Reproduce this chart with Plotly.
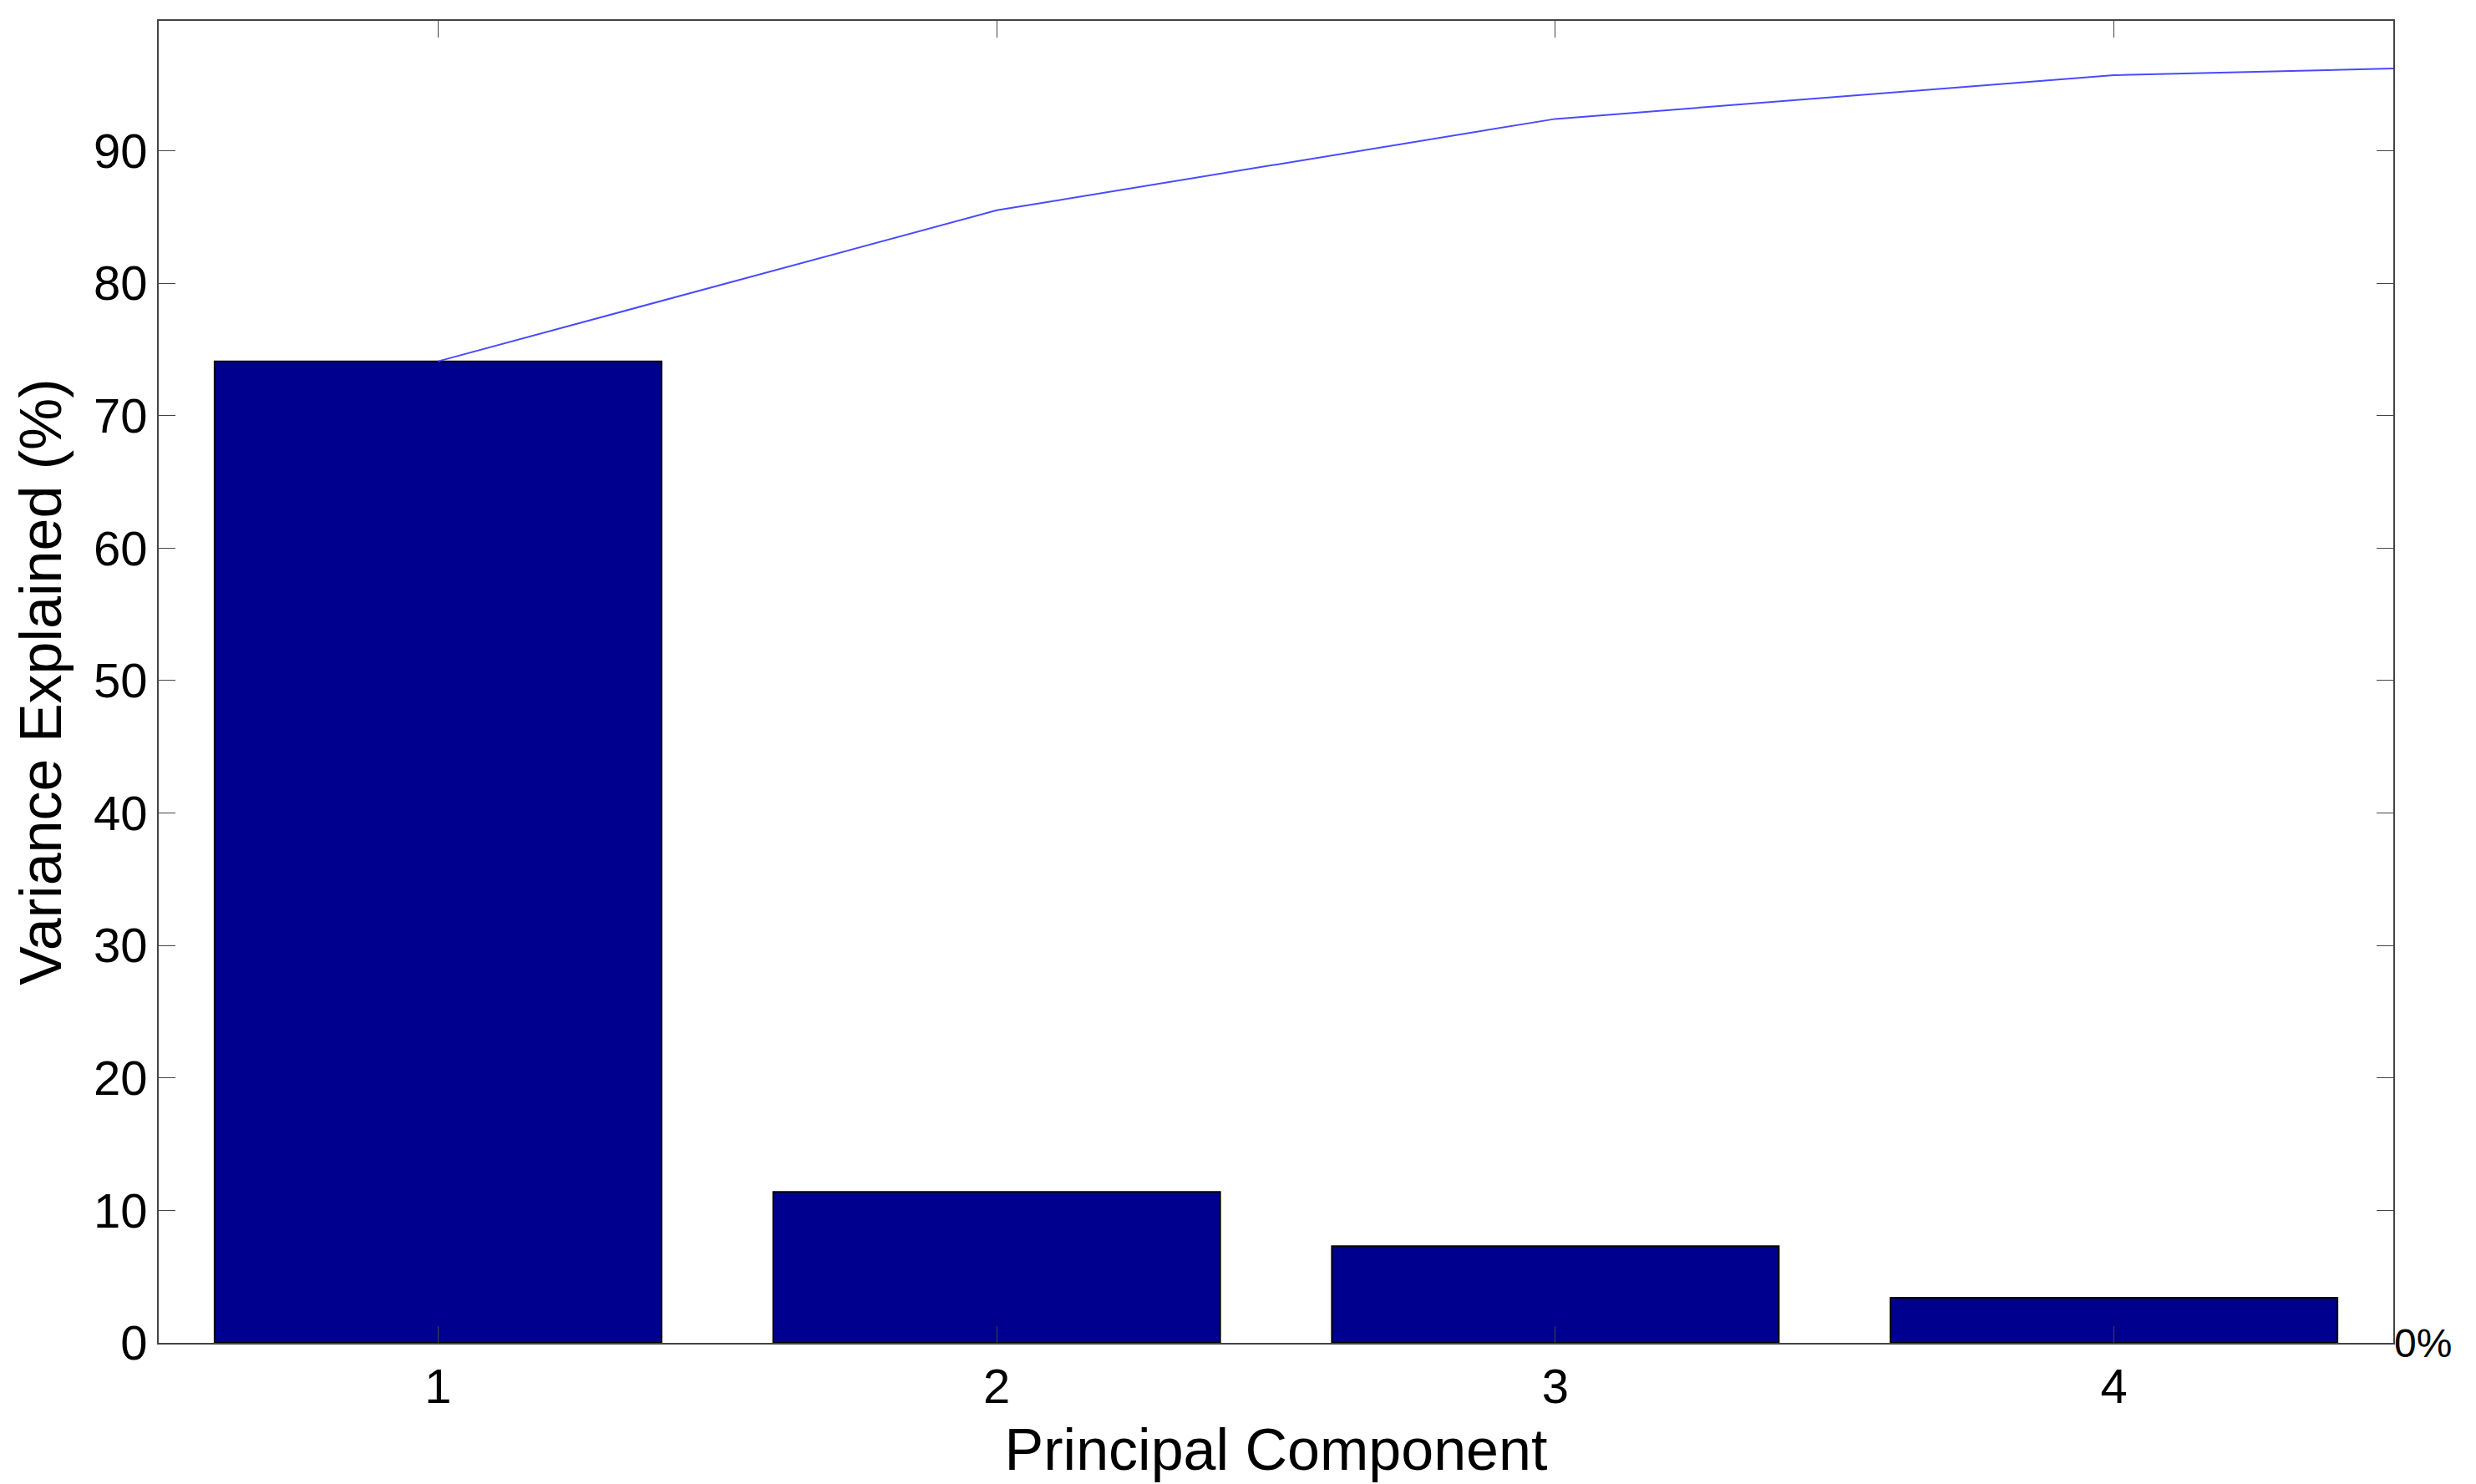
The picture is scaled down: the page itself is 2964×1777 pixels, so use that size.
import plotly.graph_objects as go

components = [1, 2, 3, 4]
variance = [74.1, 11.4, 7.3, 3.4]
cum_x = [1, 2, 3, 4, 4.5]
cumulative = [74.1, 85.5, 92.4, 95.7, 96.2]

fig = go.Figure()
fig.add_trace(go.Bar(x=components, y=variance, width=0.8,
                     marker=dict(color="#00008f", line=dict(color="black", width=2))))
fig.add_trace(go.Scatter(x=cum_x, y=cumulative, mode="lines",
                         line=dict(color="#4a4aff", width=2)))
fig.add_trace(go.Scatter(x=[1], y=[0], yaxis="y2", mode="markers",
                         marker=dict(opacity=0), hoverinfo="skip"))

axis_font = dict(family="Liberation Sans, Arial", size=58, color="black")
fig.update_layout(
    width=2964, height=1777,
    margin=dict(l=182, r=107, t=17, b=177),
    plot_bgcolor="white", paper_bgcolor="white",
    showlegend=False, bargap=0.2,
    font=axis_font,
    xaxis=dict(range=[0.5, 4.5], tickvals=components, ticks="inside", ticklen=20,
               tickcolor="#444", showline=True, linecolor="#444", linewidth=2,
               mirror="ticks", showgrid=False, zeroline=False,
               title=dict(text="Principal Component", standoff=20), tickfont=axis_font),
    yaxis=dict(range=[0, 99.8], tickvals=list(range(0, 100, 10)), ticks="inside",
               ticklen=20, tickcolor="#444", showline=True, linecolor="#444",
               linewidth=2, mirror="ticks", showgrid=False, zeroline=False,
               title=dict(text="Variance Explained (%)", standoff=15), tickfont=axis_font),
    yaxis2=dict(range=[0, 99.8], overlaying="y", side="right", tickvals=[0],
                ticktext=["0%"], ticks="", showgrid=False, zeroline=False,
                showline=False, tickfont=dict(family="Liberation Sans, Arial", size=48)),
)

fig.write_html("out.html")
